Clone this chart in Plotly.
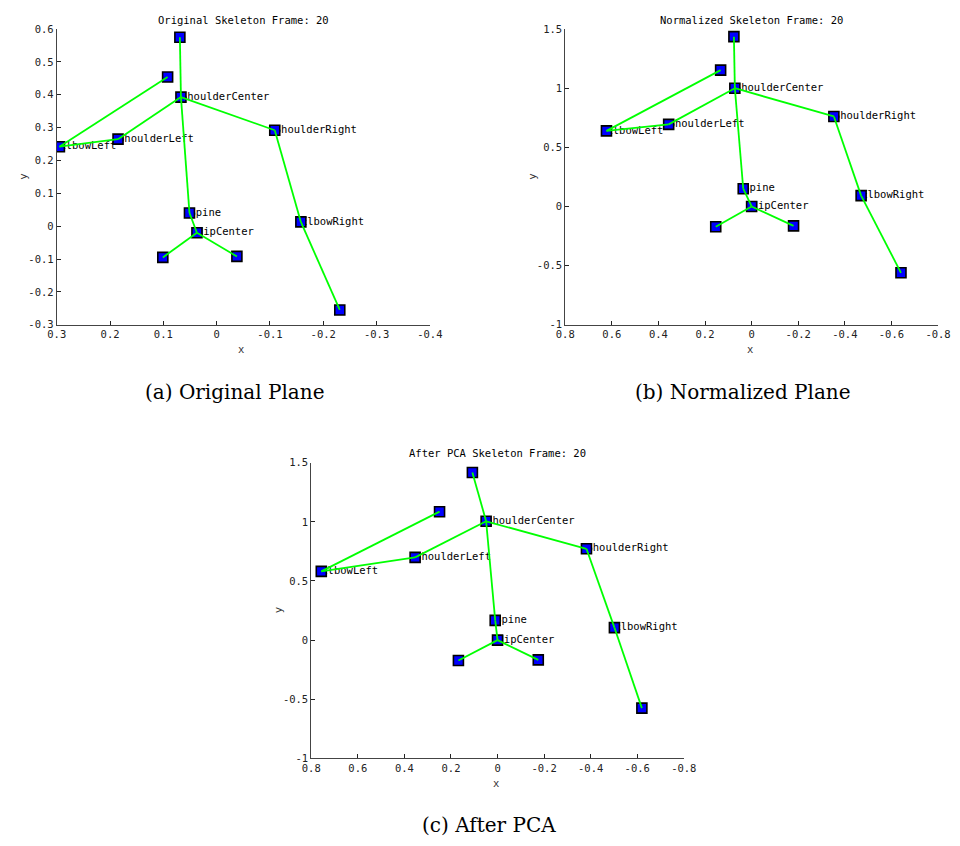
import plotly.graph_objects as go

W, H = 960, 846          # browser window
OFF = 8                  # default page margin of the html body
FW, FH = W - 2 * OFF, H - 2 * OFF

# ---------------- data ----------------
joints = ["Head", "ShoulderCenter", "Spine", "HipCenter", "HipLeft", "HipRight",
          "ShoulderLeft", "ElbowLeft", "HandLeft", "ShoulderRight", "ElbowRight", "HandRight"]
shown_labels = ["", "ShoulderCenter", "Spine", "HipCenter", "", "",
                "ShoulderLeft", "ElbowLeft", "", "ShoulderRight", "ElbowRight", ""]

orig_x = [0.069, 0.067, 0.051, 0.037, 0.101, -0.038, 0.185, 0.295, 0.092, -0.109, -0.158, -0.231]
orig_y = [0.575, 0.393, 0.040, -0.020, -0.095, -0.092, 0.265, 0.242, 0.454, 0.292, 0.013, -0.255]

norm_x = [0.076, 0.072, 0.036, 0.000, 0.154, -0.180, 0.356, 0.623, 0.133, -0.353, -0.470, -0.641]
norm_y = [1.436, 1.000, 0.150, 0.000, -0.172, -0.164, 0.694, 0.639, 1.153, 0.761, 0.092, -0.561]

pca_x = [0.108, 0.049, 0.010, 0.000, 0.168, -0.175, 0.354, 0.757, 0.249, -0.382, -0.502, -0.620]
pca_y = [1.417, 1.005, 0.167, 0.000, -0.172, -0.167, 0.700, 0.581, 1.086, 0.772, 0.106, -0.575]

bones = [("Head", "ShoulderCenter"), ("ShoulderCenter", "Spine"), ("Spine", "HipCenter"),
         ("HipCenter", "HipLeft"), ("HipCenter", "HipRight"),
         ("ShoulderCenter", "ShoulderLeft"), ("ShoulderLeft", "ElbowLeft"), ("ElbowLeft", "HandLeft"),
         ("ShoulderCenter", "ShoulderRight"), ("ShoulderRight", "ElbowRight"), ("ElbowRight", "HandRight")]

titles = ["Original Skeleton Frame: 20", "Normalized Skeleton Frame: 20", "After PCA Skeleton Frame: 20"]
captions = ["(a) Original Plane", "(b) Normalized Plane", "(c) After PCA"]

a_xticks = [0.3, 0.2, 0.1, 0, -0.1, -0.2, -0.3, -0.4]
a_xtext = ["0.3", "0.2", "0.1", "0", "-0.1", "-0.2", "-0.3", "-0.4"]
a_yticks = [-0.3, -0.2, -0.1, 0, 0.1, 0.2, 0.3, 0.4, 0.5, 0.6]
a_ytext = ["-0.3", "-0.2", "-0.1", "0", "0.1", "0.2", "0.3", "0.4", "0.5", "0.6"]
bc_xticks = [0.8, 0.6, 0.4, 0.2, 0, -0.2, -0.4, -0.6, -0.8]
bc_xtext = ["0.8", "0.6", "0.4", "0.2", "0", "-0.2", "-0.4", "-0.6", "-0.8"]
bc_yticks = [-1, -0.5, 0, 0.5, 1, 1.5]
bc_ytext = ["-1", "-0.5", "0", "0.5", "1", "1.5"]

# ---------------- layout geometry (window pixels) ----------------
panels = [
    dict(xs=orig_x, ys=orig_y, box=(48.7, 430.7, 23.3, 323.3), xr=[0.3, -0.4], yr=[-0.3, 0.6],
         xt=(a_xticks, a_xtext), yt=(a_yticks, a_ytext), cap=(231, 392), ylab_x=14),
    dict(xs=norm_x, ys=norm_y, box=(569.3, 951.0, 23.3, 323.3), xr=[0.8, -0.8], yr=[-1, 1.5],
         xt=(bc_xticks, bc_xtext), yt=(bc_yticks, bc_ytext), cap=(751, 392), ylab_x=535),
    dict(xs=pca_x, ys=pca_y, box=(309.3, 690.7, 463.3, 763.3), xr=[0.8, -0.8], yr=[-1, 1.5],
         xt=(bc_xticks, bc_xtext), yt=(bc_yticks, bc_ytext), cap=(491, 831), ylab_x=275),
]

def px(x):
    return (x - OFF) / FW

def py(y):
    return 1 - (y - OFF) / FH

MONO = "DejaVu Sans Mono"
FS = 10.5
fig = go.Figure()
annotations = []
layout_axes = {}

for i, p in enumerate(panels):
    n = i + 1
    xa = "x" if n == 1 else f"x{n}"
    ya = "y" if n == 1 else f"y{n}"
    idx = {j: k for k, j in enumerate(joints)}
    # text labels (underneath markers)
    fig.add_trace(go.Scatter(
        x=p["xs"], y=p["ys"], mode="text", text=shown_labels,
        textposition="middle right", textfont=dict(family=MONO, size=FS, color="black"),
        xaxis=xa, yaxis=ya, showlegend=False, hoverinfo="skip"))
    # markers
    fig.add_trace(go.Scatter(
        x=p["xs"], y=p["ys"], mode="markers",
        marker=dict(symbol="square", size=10, color="#0000ff",
                    line=dict(color="black", width=1.6)),
        xaxis=xa, yaxis=ya, showlegend=False, hovertext=joints))
    # bones (on top)
    lx, ly = [], []
    for a, b in bones:
        lx += [p["xs"][idx[a]], p["xs"][idx[b]], None]
        ly += [p["ys"][idx[a]], p["ys"][idx[b]], None]
    fig.add_trace(go.Scatter(
        x=lx, y=ly, mode="lines", line=dict(color="#00ff00", width=1.8),
        xaxis=xa, yaxis=ya, showlegend=False, hoverinfo="skip"))

    l, r, t, b = p["box"]
    common = dict(showgrid=False, zeroline=False, showline=True, linecolor="#444444",
                  linewidth=1, ticks="inside", ticklen=4, tickcolor="#222222", tickwidth=1,
                  tickfont=dict(family=MONO, size=FS, color="#222222"), mirror=False,
                  fixedrange=True)
    layout_axes["xaxis" if n == 1 else f"xaxis{n}"] = dict(
        domain=[px(l), px(r)], anchor=ya, range=p["xr"], tickmode="array",
        tickvals=p["xt"][0], ticktext=p["xt"][1], **common)
    layout_axes["yaxis" if n == 1 else f"yaxis{n}"] = dict(
        domain=[py(b), py(t)], anchor=xa, range=p["yr"], tickmode="array",
        tickvals=p["yt"][0], ticktext=p["yt"][1], **common)

    cx = (l + r) / 2
    annotations.append(dict(text=titles[i], x=px(cx), y=py(t - 9.5), xref="paper", yref="paper",
                            showarrow=False, xanchor="center", yanchor="middle",
                            font=dict(family=MONO, size=FS, color="black")))
    annotations.append(dict(text="x", x=px(cx - 2), y=py(b + 25), xref="paper", yref="paper",
                            showarrow=False, xanchor="center", yanchor="middle",
                            font=dict(family=MONO, size=FS, color="#333333")))
    annotations.append(dict(text="y", x=px(p["ylab_x"]), y=py((t + b) / 2), xref="paper", yref="paper",
                            showarrow=False, xanchor="center", yanchor="middle", textangle=-90,
                            font=dict(family=MONO, size=FS, color="#333333")))
    annotations.append(dict(text=captions[i], x=px(p["cap"][0]), y=py(p["cap"][1]), xref="paper",
                            yref="paper", showarrow=False, xanchor="center", yanchor="middle",
                            font=dict(family="DejaVu Serif", size=20, color="black")))

fig.update_layout(
    width=FW, height=FH, margin=dict(l=0, r=0, t=0, b=0),
    paper_bgcolor="white", plot_bgcolor="white",
    annotations=annotations, showlegend=False, **layout_axes)

fig.write_html("out.html")
